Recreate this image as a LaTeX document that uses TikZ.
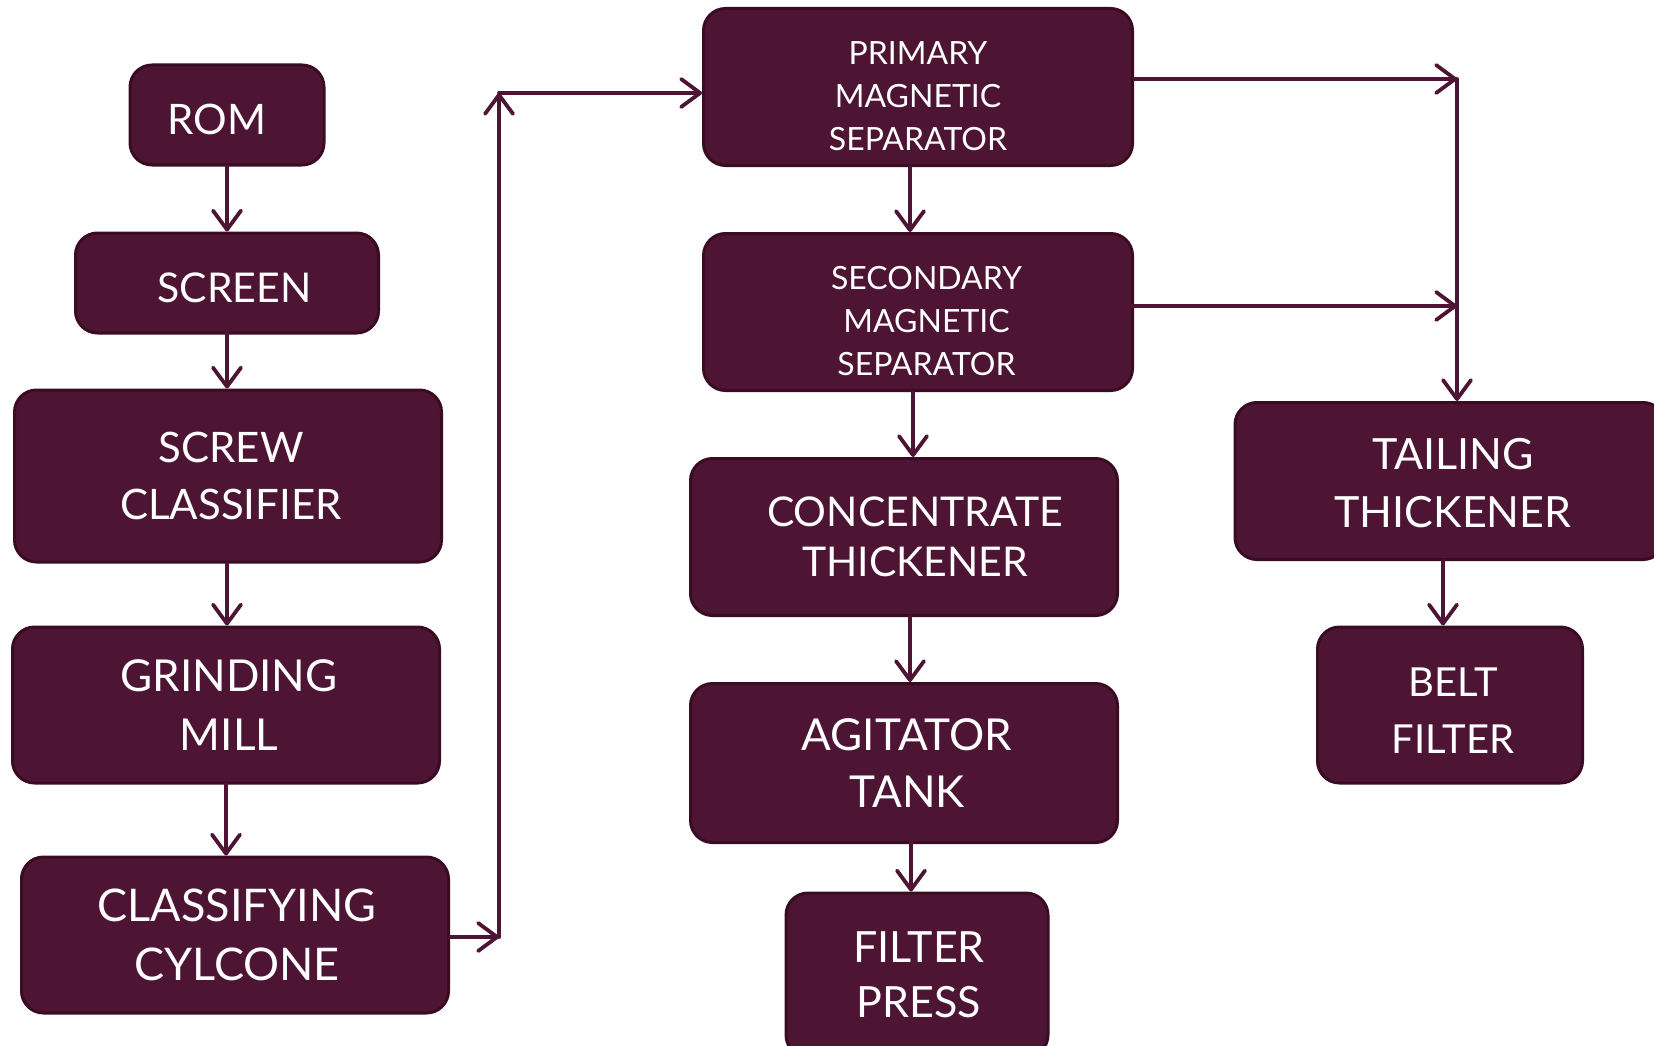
\documentclass[tikz,border=0pt]{standalone}
\usepackage{fontspec}
\setmainfont{Lato}
\usetikzlibrary{arrows.meta}
\definecolor{plum}{RGB}{77,21,51}
\definecolor{plumdark}{RGB}{58,12,36}
\newcommand\fs[2]{\fontsize{#1}{#2}\selectfont}
\newcommand\ind[1]{\hspace*{#1pt}}
\newcommand\lineup[1]{\rule{0pt}{#1pt}}
\tikzstyle{unit} = [rectangle, rounded corners=22pt, fill=plum, draw=plumdark, line width=3pt, text=white, align=center, inner sep=0pt]
\tikzstyle{flow} = [draw=plum, line width=3.8pt, line cap=round, -{Straight Barb[length=19pt,width=28pt,round]}]

\begin{document}
\begin{tikzpicture}[x=1pt,y=-1pt]
\fill[white] (0,0) rectangle (1654,1046);
\useasboundingbox (0,0) rectangle (1654,1046);
% left column
\node[unit, minimum width=194, minimum height=100, font=\fs{42}{50}] (rom) at (227,115) {\lineup{40}\ind{-20}ROM};
\node[unit, minimum width=303, minimum height=100, font=\fs{41}{50}] (screen) at (227,283) {\lineup{40}\ind{15}SCREEN};
\node[unit, minimum width=427, minimum height=172, font=\fs{42}{57}] (screw) at (228,476) {\ind{6}SCREW\\\ind{6}CLASSIFIER};
\node[unit, minimum width=427, minimum height=156, font=\fs{44}{59}] (grind) at (226,705) {\ind{6}GRINDING\\\ind{6}MILL};
\node[unit, minimum width=427, minimum height=156, font=\fs{45}{59}] (cyclone) at (235,935) {\ind{4}CLASSIFYING\\\ind{4}CYLCONE};
% middle column
\node[unit, minimum width=429, minimum height=157, font=\fs{32}{43}] (primary) at (918,87) {\lineup{42}PRIMARY\\MAGNETIC\\SEPARATOR};
\node[unit, minimum width=429, minimum height=157, font=\fs{32}{43}] (secondary) at (918,312) {\lineup{42}\ind{17}SECONDARY\\\ind{17}MAGNETIC\\\ind{17}SEPARATOR};
\node[unit, minimum width=427, minimum height=157, font=\fs{41}{50}] (conc) at (904,537) {\ind{22}CONCENTRATE\\\ind{22}THICKENER};
\node[unit, minimum width=427, minimum height=159, font=\fs{44}{57}] (agit) at (904,763) {\ind{6}AGITATOR\\\ind{6}TANK};
\node[unit, minimum width=262, minimum height=164, font=\fs{43}{55}] (fpress) at (917,975) {\ind{4}FILTER\\\ind{4}PRESS};
% right column
\node[unit, minimum width=430, minimum height=157, font=\fs{43}{58}] (tailing) at (1450,481) {\lineup{35}\ind{6}TAILING\\\ind{6}THICKENER};
\node[unit, minimum width=265, minimum height=156, font=\fs{40}{57}] (belt) at (1450,705) {\lineup{39}\ind{6}BELT\\\ind{6}FILTER};
% junctions
\coordinate (cj1) at (499,937);
\coordinate (cj2) at (499,93);
\coordinate (tj1) at (1457,79);
\coordinate (tj2) at (1457,306);
% flows
\draw[flow] (rom.south) -- (rom.south |- screen.north);
\draw[flow] ([yshift=16]screen.south) -- (screen.south |- screw.north);
\draw[flow] ([xshift=-1]screw.south) -- ([xshift=-1]screw.south |- grind.north);
\draw[flow] (grind.south) -- (grind.south |- cyclone.north);
\draw[flow] (cyclone.east |- cj1) -- (cj1);
\draw[flow] (cj1) -- (cj2);
\draw[flow] (cj2) -- (cj2 -| primary.west);
\draw[flow] ([xshift=-8]primary.south) -- ([xshift=-8]primary.south |- secondary.north);
\draw[flow] ([xshift=-5]secondary.south) -- ([xshift=-5]secondary.south |- conc.north);
\draw[flow] ([xshift=6]conc.south) -- ([xshift=6]conc.south |- agit.north);
\draw[flow] ([xshift=7,yshift=20]agit.south) -- ([xshift=7]agit.south |- fpress.north);
\draw[flow] (primary.east |- tj1) -- (tj1);
\draw[flow] ([xshift=-16]secondary.east |- tj2) -- (tj2);
\draw[flow] (tj1) -- (tj1 |- tailing.north);
\draw[flow] ([xshift=-7]tailing.south) -- ([xshift=-7]tailing.south |- belt.north);
\end{tikzpicture}
\end{document}
